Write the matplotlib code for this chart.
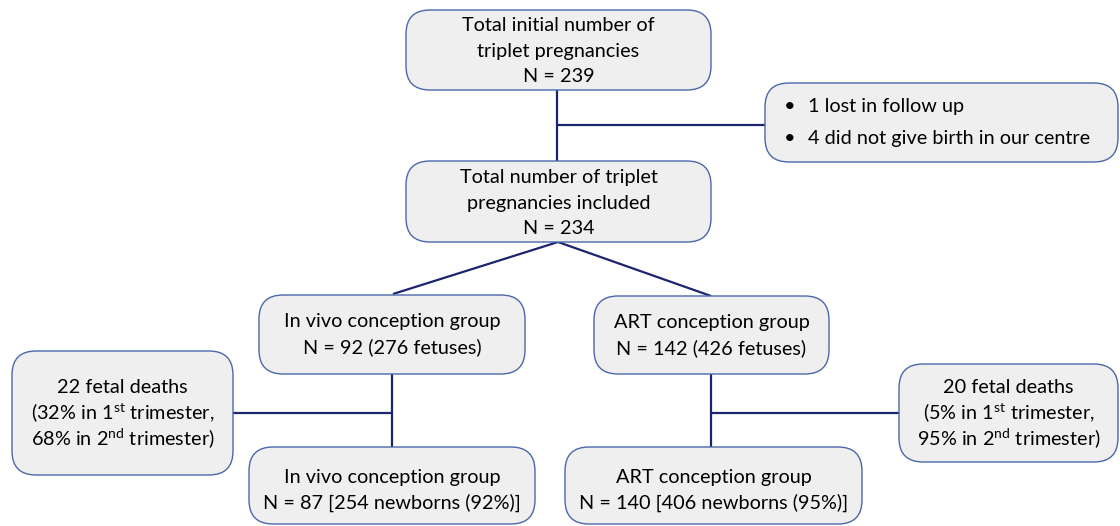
import matplotlib.pyplot as plt
from matplotlib.patches import FancyBboxPatch

plt.rcParams['font.family'] = ['Lato', 'DejaVu Sans']
plt.rcParams['mathtext.fontset'] = 'custom'
plt.rcParams['mathtext.rm'] = 'Lato'

# box texts
top_text = ["Total initial number of", "triplet pregnancies", "N = 239"]
excluded_text = ["1 lost in follow up", "4 did not give birth in our centre"]
included_text = ["Total number of triplet", "pregnancies included", "N = 234"]
invivo_text = ["In vivo conception group", "N = 92 (276 fetuses)"]
art_text = ["ART conception group", "N = 142 (426 fetuses)"]
invivo_deaths = ["22 fetal deaths", "(32% in 1$^{\\mathrm{st}}$ trimester,", "68% in 2$^{\\mathrm{nd}}$ trimester)"]
art_deaths = ["20 fetal deaths", "(5% in 1$^{\\mathrm{st}}$ trimester,", "95% in 2$^{\\mathrm{nd}}$ trimester)"]
invivo_born = ["In vivo conception group", "N = 87 [254 newborns (92%)]"]
art_born = ["ART conception group", "N = 140 [406 newborns (95%)]"]

FILL = '#efefef'
EDGE = '#4a68aa'
LINE = '#1c2470'
FS = 14.3
LH = 25.5

fig = plt.figure(figsize=(11.2, 5.26), dpi=100)
ax = fig.add_axes([0, 0, 1, 1])
ax.set_xlim(0, 1120)
ax.set_ylim(526, 0)
ax.axis('off')


def box(x0, y0, x1, y1, lines, cx=None, cy=None, align='center'):
    p = FancyBboxPatch((x0, y0), x1 - x0, y1 - y0,
                       boxstyle="round,pad=0,rounding_size=24",
                       fc=FILL, ec=EDGE, lw=1.0, zorder=2)
    ax.add_patch(p)
    if cx is None:
        cx = (x0 + x1) / 2
    if cy is None:
        cy = (y0 + y1) / 2
    n = len(lines)
    for i, t in enumerate(lines):
        y = cy + (i - (n - 1) / 2) * LH
        ax.text(cx, y, t, ha=align, va='center', fontsize=FS, color='black', zorder=3)


def line(xs, ys):
    ax.plot(xs, ys, color=LINE, lw=1.6, zorder=1, solid_capstyle='butt')


# connectors
line([557, 557], [90, 161])
line([557, 766], [125, 125])
line([393, 558, 711], [294, 242, 296])
line([392, 392], [374, 448])
line([233, 392], [413, 413])
line([711, 711], [374, 448])
line([711, 900], [413, 413])

box(406, 10, 711, 90, top_text, cy=51)
box(765, 83, 1118, 162, [])
for i, t in enumerate(excluded_text):
    y = 122.5 + (i - 0.5) * 32
    ax.text(784, y, u"\u2022", ha='left', va='center', fontsize=FS, color='black', zorder=3)
    ax.text(808, y, t, ha='left', va='center', fontsize=FS, color='black', zorder=3)
box(406, 161, 711, 242, included_text, cy=203)
box(259, 295, 525, 374, invivo_text)
box(594, 296, 829, 374, art_text)
box(12, 351, 233, 475, invivo_deaths)
box(899, 364, 1118, 462, art_deaths, cy=413)
box(249, 447, 535, 524, invivo_born, cy=490)
box(565, 447, 862, 524, art_born, cy=490)

fig.savefig('out.png', dpi=100)
